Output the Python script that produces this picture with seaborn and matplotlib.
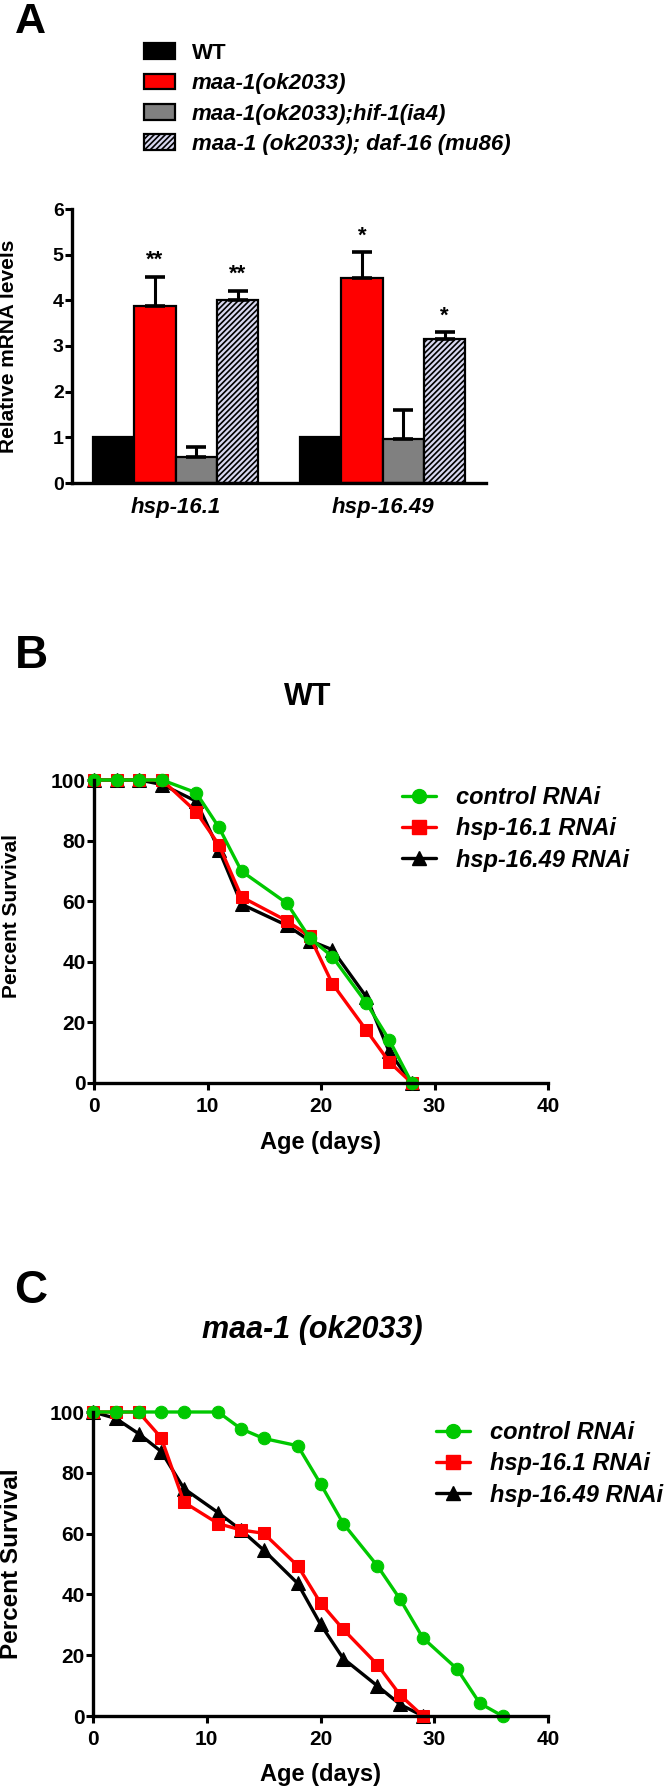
import numpy as np
import pandas as pd
import matplotlib
matplotlib.use("Agg")
import matplotlib.pyplot as plt
import seaborn as sns
from matplotlib.patches import Patch
from matplotlib.lines import Line2D

# ---- panel A data: relative mRNA levels (mean, upper error) ----
genes = ["hsp-16.1", "hsp-16.49"]
strains = ["WT", "maa-1(ok2033)", "maa-1(ok2033);hif-1(ia4)", "maa-1 (ok2033); daf-16 (mu86)"]
mrna_hsp161 = [1.0, 3.87, 0.58, 4.0]
mrna_hsp1649 = [1.0, 4.48, 0.97, 3.15]
err_hsp161 = [0.0, 0.65, 0.20, 0.21]
err_hsp1649 = [0.0, 0.58, 0.62, 0.15]
stars_hsp161 = ["", "**", "", "**"]
stars_hsp1649 = ["", "*", "", "*"]
bar_colors = ["#000000", "#ff0000", "#808080", "#d8d8f0"]

# ---- panel B data: WT survival ----
wt_days = [0, 2, 4, 6, 9, 11, 13, 17, 19, 21, 24, 26, 28]
wt_control = [100, 100, 100, 100, 95.8, 84.4, 69.9, 59.3, 47.9, 41.7, 26.4, 14.3, 0]
wt_hsp161 = [100, 100, 100, 100, 89.5, 78.6, 61.4, 53.5, 48.4, 32.8, 17.4, 7.0, 0]
wt_hsp1649 = [100, 100, 100, 98.5, 93.0, 77.0, 59.0, 52.0, 47.0, 44.0, 28.4, 10.4, 0]

# ---- panel C data: maa-1 (ok2033) survival ----
maa_control_days = [0, 2, 4, 6, 8, 11, 13, 15, 18, 20, 22, 25, 27, 29, 32, 34, 36]
maa_control = [100, 100, 100, 100, 100, 100, 94.5, 91.3, 88.9, 76.4, 63.3, 49.4, 38.4, 25.7, 15.5, 4.2, 0]
maa_rnai_days = [0, 2, 4, 6, 8, 11, 13, 15, 18, 20, 22, 25, 27, 29]
maa_hsp161 = [100, 100, 100, 91.5, 70.3, 63.3, 61.2, 60.1, 49.4, 37.2, 28.5, 16.9, 6.9, 0]
maa_hsp1649 = [100, 97.9, 92.9, 87.0, 74.8, 66.9, 61.2, 54.6, 43.6, 30.2, 18.9, 9.9, 3.8, 0]

rnai_labels = ["control RNAi", "hsp-16.1 RNAi", "hsp-16.49 RNAi"]
rnai_colors = ["#00c800", "#ff0000", "#000000"]
rnai_markers = ["o", "s", "^"]

sns.set_style("ticks")
plt.rcParams["font.family"] = ["Liberation Sans", "DejaVu Sans"]
plt.rcParams["font.weight"] = "bold"
plt.rcParams["axes.labelweight"] = "bold"
plt.rcParams["hatch.linewidth"] = 1.2
for key in ["text.color", "axes.labelcolor", "xtick.color", "ytick.color", "axes.edgecolor"]:
    plt.rcParams[key] = "black"

W, H = 671, 1787
fig = plt.figure(figsize=(W / 100, H / 100), dpi=100)


def px_axes(left, top, right, bottom):
    return fig.add_axes([left / W, 1 - bottom / H, (right - left) / W, (bottom - top) / H])


def style_spines(ax):
    sns.despine(ax=ax)
    for s in ["left", "bottom"]:
        ax.spines[s].set_linewidth(2.4)
        ax.spines[s].set_color("black")


# ================= Panel A =================
axA = px_axes(72, 209, 486, 483)
df = pd.DataFrame({
    "gene": np.repeat(genes, len(strains)),
    "strain": strains * len(genes),
    "level": mrna_hsp161 + mrna_hsp1649,
    "err": err_hsp161 + err_hsp1649,
    "star": stars_hsp161 + stars_hsp1649,
})
sns.barplot(data=df, x="gene", y="level", hue="strain", order=genes, hue_order=strains,
            palette=bar_colors, saturation=1, width=0.8, errorbar=None,
            edgecolor="black", linewidth=1.6, legend=False, ax=axA)
bar_conts = list(axA.containers)[:len(strains)]
for i, cont in enumerate(bar_conts):
    sub = df[df["strain"] == strains[i]].set_index("gene").loc[genes]
    for bar, err, star in zip(cont, sub["err"], sub["star"]):
        xc = bar.get_x() + bar.get_width() / 2
        h = bar.get_height()
        if i == 3:
            bar.set_hatch("//////")
        if err > 0:
            axA.errorbar(xc, h, yerr=[[0], [err]], fmt="none", ecolor="black",
                         elinewidth=2.2, capsize=7, capthick=2.6, zorder=1)
        if star:
            axA.annotate(star, (xc, h + err), xytext=(0, 4), textcoords="offset points",
                         ha="center", va="bottom", fontsize=16, fontweight="bold")
axA.set_xlim(-0.5, 1.5)
axA.set_ylim(0, 6)
axA.set_yticks(range(0, 7))
axA.set_xlabel("")
axA.set_ylabel("")
style_spines(axA)
axA.tick_params(axis="y", length=5, width=2.2, pad=1, labelsize=14)
axA.tick_params(axis="x", length=0, pad=10, labelsize=16)
for t in axA.get_xticklabels():
    t.set_style("italic")
fig.text(9 / W, 1 - 346 / H, "Relative mRNA levels", rotation=90, ha="center", va="center",
         fontsize=15, fontweight="bold")

handles = [Patch(facecolor=c, edgecolor="black", linewidth=1.6) for c in bar_colors]
handles[3].set_hatch("//////")
legA = fig.legend(handles, strains, loc="upper left", bbox_to_anchor=(144 / W, 1 - 43 / H),
                  frameon=False, fontsize=16, handlelength=1.4, handleheight=0.7,
                  handletextpad=0.75, labelspacing=0.42, borderpad=0, borderaxespad=0)
for k, t in enumerate(legA.get_texts()):
    if k > 0:
        t.set_style("italic")

fig.text(30 / W, 1 - 22 / H, "A", fontsize=31, fontweight="bold", ha="center", va="center")


# ================= Panels B and C =================
def survival(ax, series):
    # draw back to front: black, red, green
    for (days, vals), lab, col, mk in list(zip(series, rnai_labels, rnai_colors, rnai_markers))[::-1]:
        sns.lineplot(x=days, y=vals, color=col, marker=mk, markersize=9 if mk != "^" else 9.5,
                     linewidth=2.4, markeredgecolor=col, ax=ax, clip_on=False)
    ax.set_xlim(0, 40)
    ax.set_ylim(0, 100)
    ax.set_xticks(range(0, 41, 10))
    ax.set_yticks(range(0, 101, 20))
    style_spines(ax)
    ax.tick_params(axis="y", length=5, width=2.2, pad=1, labelsize=15)
    ax.tick_params(axis="x", length=5, width=2.2, pad=5, labelsize=15)
    ax.set_xlabel("")
    ax.set_ylabel("")


def survival_legend(x_left, y_top):
    hs = [Line2D([], [], color=c, marker=m, markersize=10, linewidth=2.4, markeredgecolor=c)
          for c, m in zip(rnai_colors, rnai_markers)]
    lg = fig.legend(hs, rnai_labels, loc="upper left", bbox_to_anchor=(x_left / W, 1 - y_top / H),
                    frameon=False, fontsize=17, handlelength=1.45, handletextpad=0.85,
                    labelspacing=0.35, borderpad=0, borderaxespad=0, numpoints=1)
    for t in lg.get_texts():
        t.set_style("italic")


axB = px_axes(94, 780, 548, 1083)
survival(axB, [(wt_days, wt_control), (wt_days, wt_hsp161), (wt_days, wt_hsp1649)])
survival_legend(402, 786)
fig.text(31 / W, 1 - 656 / H, "B", fontsize=33, fontweight="bold", ha="center", va="center")
fig.text(308 / W, 1 - 697 / H, "WT", fontsize=22, fontweight="bold", ha="center", va="center")
fig.text(12 / W, 1 - 916 / H, "Percent Survival", rotation=90, ha="center", va="center",
         fontsize=15, fontweight="bold")
fig.text(321 / W, 1 - 1142 / H, "Age (days)", ha="center", va="center", fontsize=17, fontweight="bold")

axC = px_axes(93, 1412, 548, 1716)
survival(axC, [(maa_control_days, maa_control), (maa_rnai_days, maa_hsp161),
               (maa_rnai_days, maa_hsp1649)])
survival_legend(436, 1421)
fig.text(31 / W, 1 - 1291 / H, "C", fontsize=33, fontweight="bold", ha="center", va="center")
fig.text(312 / W, 1 - 1330 / H, "maa-1 (ok2033)", fontsize=22, fontweight="bold", style="italic",
         ha="center", va="center")
fig.text(12 / W, 1 - 1564 / H, "Percent Survival", rotation=90, ha="center", va="center",
         fontsize=17.5, fontweight="bold")
fig.text(321 / W, 1 - 1775 / H, "Age (days)", ha="center", va="center", fontsize=17, fontweight="bold")

fig.savefig("out.png", dpi=100, facecolor="white")
